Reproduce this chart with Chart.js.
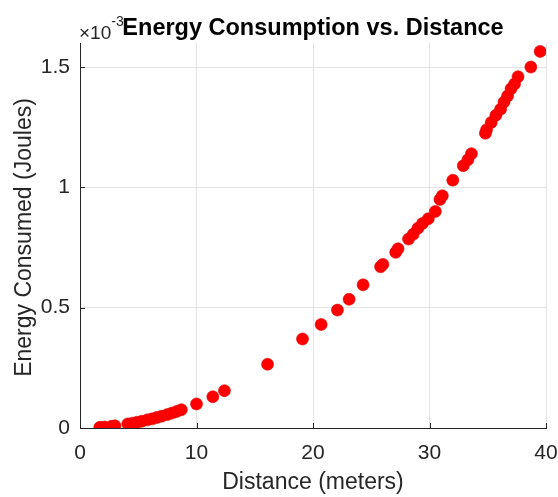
<!DOCTYPE html>
<html>
<head>
<meta charset="utf-8">
<script src="https://cdn.jsdelivr.net/npm/chart.js@4"></script>
<style>
  html, body { margin: 0; padding: 0; background: #fff; }
  #wrap { width: 558px; height: 497px; position: relative; }
</style>
</head>
<body>
<div id="wrap"><canvas id="energyChart"></canvas></div>
<script>
// distance in meters, energy in units of 1e-3 J (axis shows x10^-3)
const distance = [
  1.7, 2.1, 2.7, 3.0, 4.1, 4.5, 4.9, 5.3, 5.8, 6.2, 6.6, 7.0, 7.5, 7.9, 8.3, 8.7,
  10.0, 11.4, 12.4, 16.1, 19.1, 20.7, 22.1, 23.1, 24.3, 25.8, 26.0, 27.1, 27.3,
  28.2, 28.6, 29.0, 29.4, 29.9, 30.5, 30.9, 31.1, 32.0, 32.9, 33.3, 33.6, 34.8,
  34.9, 35.3, 35.7, 36.1, 36.4, 36.7, 37.0, 37.3, 37.6, 38.7, 39.5
];
const energy = [
  0.003, 0.004, 0.007, 0.009, 0.017, 0.02, 0.024, 0.028, 0.034, 0.038, 0.044, 0.049,
  0.056, 0.062, 0.069, 0.076, 0.1, 0.13, 0.155, 0.265, 0.37, 0.43, 0.49, 0.535,
  0.595, 0.67, 0.68, 0.73, 0.745, 0.785, 0.805, 0.83, 0.85, 0.87, 0.9, 0.95, 0.965,
  1.03, 1.09, 1.115, 1.14, 1.225, 1.24, 1.27, 1.30, 1.325, 1.355, 1.38, 1.41, 1.43,
  1.46, 1.50, 1.565
];
const xTicks = [0, 10, 20, 30, 40];
const yTicks = [0, 0.5, 1, 1.5];

const titleText = 'Energy Consumption vs. Distance';
const xLabel = 'Distance (meters)';
const yLabel = 'Energy Consumed (Joules)';

const textColor = '#262626';
const gridColor = '#e3e3e3';
const fontFamily = '"Liberation Sans", Arial, sans-serif';

// Draws title, axis labels, exponent and small inner tick marks MATLAB-style
const decorations = {
  id: 'decorations',
  afterDraw(chart) {
    const { ctx, chartArea: a, scales } = chart;
    ctx.save();

    // inner tick marks
    ctx.strokeStyle = textColor;
    ctx.lineWidth = 1;
    xTicks.forEach((t) => {
      const px = Math.round(scales.x.getPixelForValue(t)) + 0.5;
      ctx.beginPath();
      ctx.moveTo(px, a.bottom);
      ctx.lineTo(px, a.bottom - 5);
      ctx.stroke();
    });
    yTicks.forEach((t) => {
      const py = Math.round(scales.y.getPixelForValue(t)) + 0.5;
      ctx.beginPath();
      ctx.moveTo(a.left, py);
      ctx.lineTo(a.left + 5, py);
      ctx.stroke();
    });

    // exponent label
    ctx.fillStyle = textColor;
    ctx.textBaseline = 'alphabetic';
    ctx.textAlign = 'left';
    ctx.font = '19px ' + fontFamily;
    ctx.fillText('\u00d710', 79, 39);
    const w = ctx.measureText('\u00d710').width;
    ctx.font = '14px ' + fontFamily;
    ctx.fillText('-3', 79 + w, 26);

    // title
    ctx.fillStyle = '#000';
    ctx.textAlign = 'center';
    ctx.font = 'bold 23.5px ' + fontFamily;
    ctx.fillText(titleText, (a.left + a.right) / 2, 35);

    // x axis label
    ctx.fillStyle = textColor;
    ctx.font = '23px ' + fontFamily;
    ctx.fillText(xLabel, (a.left + a.right) / 2, 489);

    // y axis label
    ctx.translate(31, (a.top + a.bottom) / 2 + 2);
    ctx.rotate(-Math.PI / 2);
    ctx.fillText(yLabel, 0, 0);
    ctx.restore();
  },
};

new Chart(document.getElementById('energyChart'), {
  type: 'scatter',
  data: {
    datasets: [
      {
        data: distance.map((d, i) => ({ x: d, y: energy[i] })),
        backgroundColor: '#ff0000',
        borderColor: '#e00000',
        borderWidth: 0.6,
        pointRadius: 6,
        pointHoverRadius: 6,
      },
    ],
  },
  options: {
    responsive: true,
    maintainAspectRatio: false,
    animation: false,
    layout: { autoPadding: false, padding: { left: 0, right: 12, top: 43, bottom: 0 } },
    scales: {
      x: {
        type: 'linear',
        min: 0,
        max: 40,
        afterFit: (s) => {
          s.height = 69;
          s.paddingLeft = 0;
          s.paddingRight = 0;
        },
        afterBuildTicks: (s) => { s.ticks = xTicks.map((v) => ({ value: v })); },
        grid: { color: gridColor, drawTicks: false },
        border: { color: textColor, width: 1 },
        ticks: {
          color: textColor,
          padding: 13,
          maxRotation: 0,
          font: { family: fontFamily, size: 21 },
        },
      },
      y: {
        type: 'linear',
        min: 0,
        max: 1.6,
        afterFit: (s) => {
          s.width = 80;
          s.paddingTop = 0;
          s.paddingBottom = 0;
        },
        afterBuildTicks: (s) => { s.ticks = yTicks.map((v) => ({ value: v })); },
        grid: { color: gridColor, drawTicks: false },
        border: { color: textColor, width: 1 },
        ticks: {
          color: textColor,
          padding: 10,
          font: { family: fontFamily, size: 21 },
          callback: (v) => String(v),
        },
      },
    },
    plugins: {
      legend: { display: false },
      tooltip: { enabled: false },
    },
  },
  plugins: [decorations],
});
</script>
</body>
</html>
